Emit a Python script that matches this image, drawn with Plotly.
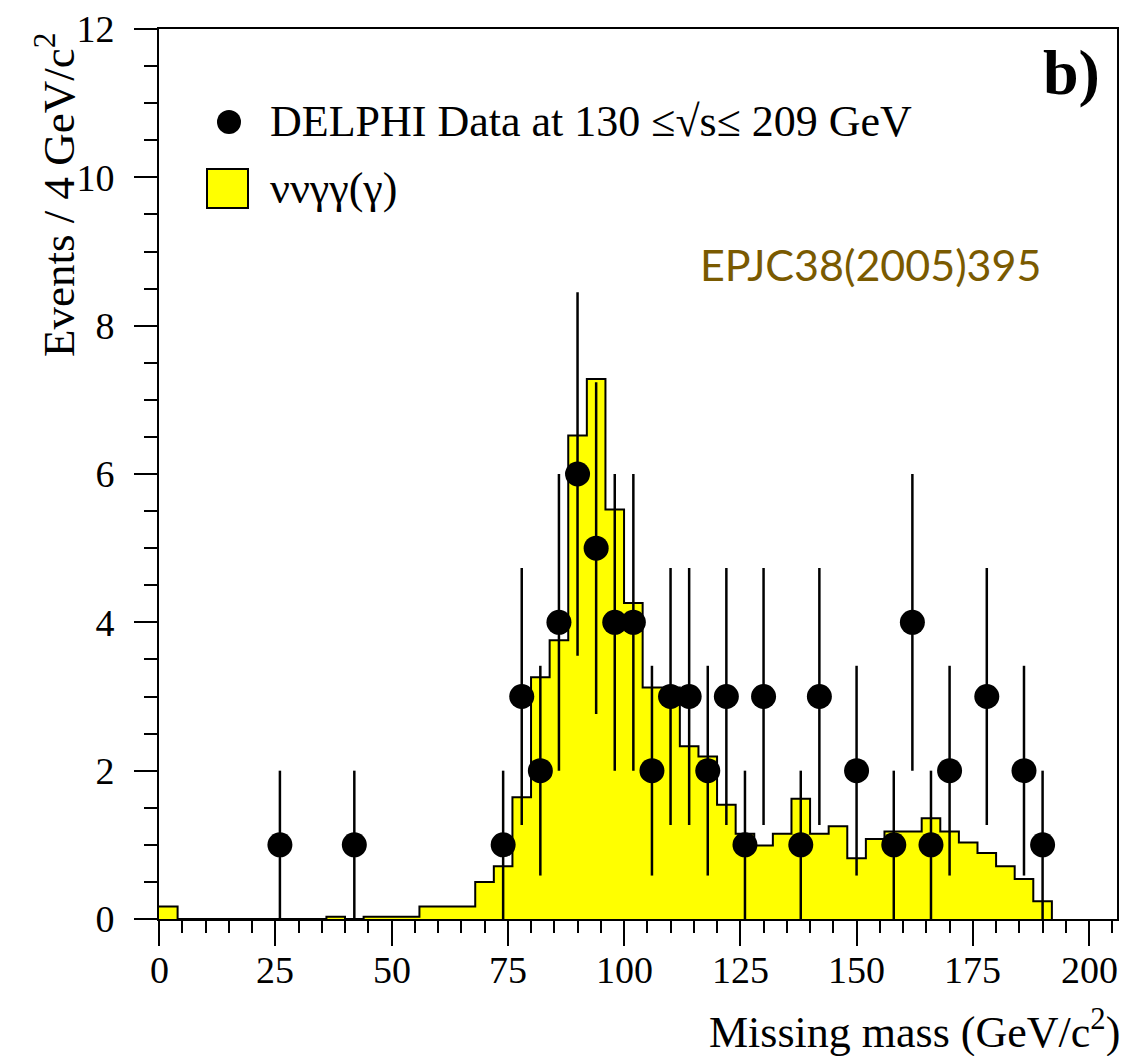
import numpy as np
import plotly.graph_objects as go

# ---------------- data ----------------
bin_width = 4
mc_low_edges = list(range(0, 192, 4))
mc_counts = [0.17, 0, 0, 0, 0, 0, 0, 0, 0, 0.03,
             0, 0.03, 0.03, 0.03, 0.17, 0.17, 0.17, 0.50, 0.71, 1.64,
             3.26, 3.76, 6.52, 7.28, 5.52, 4.26, 3.12, 3.12, 2.33, 2.19,
             1.54, 1.15, 0.99, 1.15, 1.62, 1.15, 1.25, 0.82, 1.08, 1.18,
             1.18, 1.36, 1.18, 1.03, 0.89, 0.71, 0.54, 0.24]

data_mass = [26, 42, 74, 78, 82, 86, 90, 94, 98, 102, 106, 110, 114, 118,
             122, 126, 130, 138, 142, 150, 158, 162, 166, 170, 178, 186, 190]
data_counts = [1, 1, 1, 3, 2, 4, 6, 5, 4, 4, 2, 3, 3, 2,
               3, 1, 3, 1, 3, 2, 1, 4, 1, 2, 3, 2, 1]

x_ticks = [0, 25, 50, 75, 100, 125, 150, 175, 200]
y_ticks = [0, 2, 4, 6, 8, 10, 12]

# ---------------- geometry ----------------
W, H = 1129, 1056
L, R, T, B = 159, 12, 29, 137
PW, PH = W - L - R, H - T - B


def px(x):
    return (x - L) / PW


def py(y):
    return 1 - (y - T) / PH


SERIF = "Liberation Serif"

fig = go.Figure()

# MC histogram (step outline, filled)
hx = mc_low_edges + [mc_low_edges[-1] + bin_width]
hy = mc_counts + [0]
fig.add_trace(go.Scatter(
    x=hx, y=hy, mode="lines", line=dict(shape="hv", color="black", width=2),
    fill="tozeroy", fillcolor="#ffff00", showlegend=False, hoverinfo="skip"))

# Data points with Poisson errors
fig.add_trace(go.Scatter(
    x=data_mass, y=data_counts, mode="markers",
    marker=dict(color="black", size=25, symbol="circle"),
    error_y=dict(type="data", array=list(np.sqrt(data_counts)),
                 color="black", thickness=2.5, width=0),
    showlegend=False))

axis_common = dict(
    showline=True, linewidth=2, linecolor="black", mirror=True,
    ticks="outside", tickwidth=2, tickcolor="black",
    showgrid=False, zeroline=False,
    tickfont=dict(family=SERIF, size=38, color="black"),
)

fig.update_xaxes(range=[0, 206], tickvals=x_ticks, ticklen=25,
                 showticklabels=False,
                 minor=dict(dtick=5, tick0=0, ticklen=12, tickwidth=2,
                            tickcolor="black", ticks="outside", showgrid=False),
                 **axis_common)
fig.update_yaxes(range=[0, 12], tickvals=y_ticks, ticklen=23,
                 ticklabelstandoff=12,
                 minor=dict(dtick=0.5, tick0=0, ticklen=13, tickwidth=2,
                            tickcolor="black", ticks="outside", showgrid=False),
                 **axis_common)

annotations = [
    # axis titles
    dict(text="Missing mass (GeV/c<sup>2</sup>)", x=px(1122), y=py(1059),
         xanchor="right", yanchor="bottom", showarrow=False,
         font=dict(family=SERIF, size=44, color="black")),
    dict(text="Events / 4 GeV/c<sup>2</sup>", x=px(55), y=py(195), textangle=-90,
         xanchor="center", yanchor="middle", showarrow=False,
         font=dict(family=SERIF, size=45, color="black")),
    # legend texts
    dict(text="DELPHI Data at 130 \u2264\u221as\u2264 209 GeV", x=px(268), y=py(121),
         xanchor="left", yanchor="middle", showarrow=False,
         font=dict(family=SERIF, size=44, color="black")),
    dict(text="\u03bd\u03bd\u03b3\u03b3(\u03b3)", x=px(268), y=py(188),
         xanchor="left", yanchor="middle", showarrow=False,
         font=dict(family=SERIF, size=44, color="black")),
    # panel label
    dict(text="<b>b)</b>", x=px(1102), y=py(72),
         xanchor="right", yanchor="middle", showarrow=False,
         font=dict(family=SERIF, size=64, color="black")),
    # reference
    dict(text="EPJC38(2005)395", x=px(698), y=py(264),
         xanchor="left", yanchor="middle", showarrow=False,
         font=dict(family="Lato", size=43, color="#7a5a00")),
]
for a in annotations:
    a["xref"] = "paper"
    a["yref"] = "paper"

# x tick labels (placed closer to the axis than plotly's default)
for v in x_ticks:
    annotations.append(dict(text=str(v), x=v, xref="x", y=py(970), yref="paper",
                            xanchor="center", yanchor="middle", showarrow=False,
                            font=dict(family=SERIF, size=38, color="black")))

shapes = [
    # legend dot
    dict(type="circle", xref="paper", yref="paper",
         x0=px(217), x1=px(241), y0=py(110), y1=py(134),
         fillcolor="black", line=dict(color="black", width=0)),
    # legend box
    dict(type="rect", xref="paper", yref="paper",
         x0=px(207), x1=px(248), y0=py(169), y1=py(208),
         fillcolor="#ffff00", line=dict(color="black", width=2)),
]

fig.update_layout(
    width=W, height=H, margin=dict(l=L, r=R, t=T, b=B, autoexpand=False),
    plot_bgcolor="white", paper_bgcolor="white",
    annotations=annotations, shapes=shapes, showlegend=False,
)

fig.write_html("out.html")
